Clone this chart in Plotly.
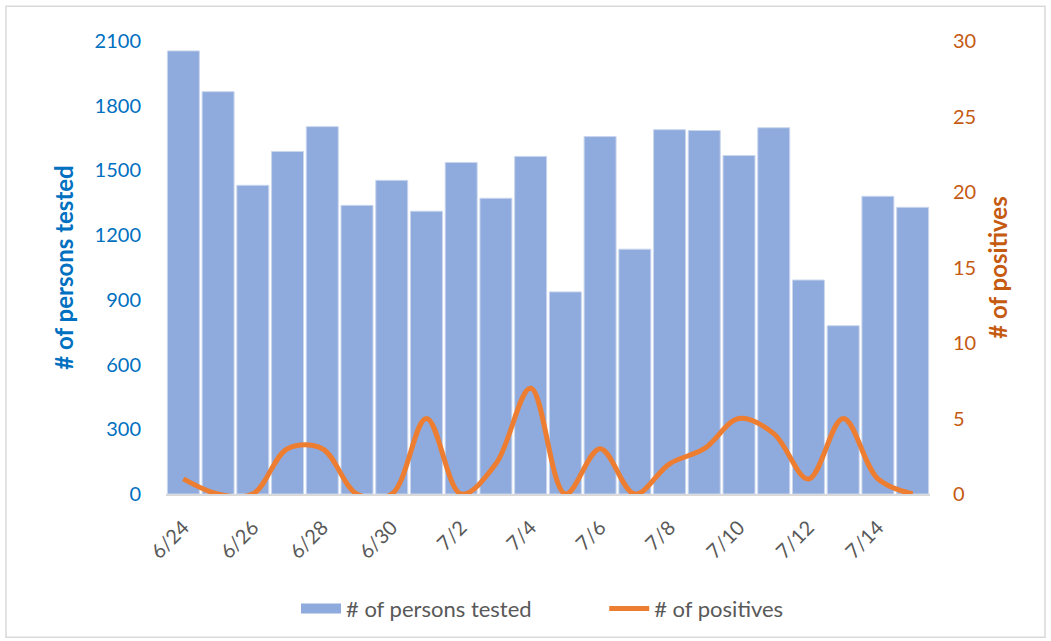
import plotly.graph_objects as go

dates = ["6/24", "6/25", "6/26", "6/27", "6/28", "6/29", "6/30", "7/1", "7/2", "7/3", "7/4",
         "7/5", "7/6", "7/7", "7/8", "7/9", "7/10", "7/11", "7/12", "7/13", "7/14", "7/15"]
tested = [2054, 1865, 1431, 1588, 1703, 1338, 1454, 1311, 1537, 1371, 1565,
          937, 1657, 1135, 1689, 1685, 1569, 1698, 992, 780, 1380, 1329]
positives = [1, 0, 0, 3, 3, 0, 0, 5, 0, 2, 7, 0, 3, 0, 2, 3, 5, 4, 1, 5, 1, 0]
tick_labels = dates[::2]

FONT = "Lato, Open Sans, sans-serif"
BLUE = "#0070C0"
ORANGE_TXT = "#C55A11"
GRAY = "#595959"
BAR = "#8FAADC"
LINE = "#ED7D31"

fig = go.Figure()
fig.add_trace(go.Bar(
    x=dates, y=tested, name="# of persons tested",
    marker=dict(color=BAR, line=dict(color="#C9D6EE", width=1)),
    yaxis="y", showlegend=False,
))
fig.add_trace(go.Scatter(
    x=dates, y=positives, name="# of positives", mode="lines",
    line=dict(color=LINE, width=5, shape="spline", smoothing=1.0),
    yaxis="y2", showlegend=False,
))
# legend-only swatches
fig.add_trace(go.Scatter(x=[None], y=[None], name="# of persons tested" + "\u00a0" * 12, mode="lines",
                         line=dict(color=BAR, width=14), yaxis="y"))
fig.add_trace(go.Scatter(x=[None], y=[None], name="# of positives", mode="lines",
                         line=dict(color=LINE, width=5), yaxis="y2"))

fig.update_layout(
    width=1051, height=641,
    margin=dict(l=166, r=121, t=41, b=145),
    paper_bgcolor="white", plot_bgcolor="white",
    font=dict(family=FONT, color=GRAY),
    bargap=0.08,
    showlegend=True,
    legend=dict(orientation="h", x=(296 - 166) / 764, xanchor="left", y=-0.253, yanchor="middle",
                font=dict(size=22, color=GRAY), traceorder="normal", itemwidth=40),
    xaxis=dict(
        type="category", tickmode="array", tickvals=tick_labels, ticktext=tick_labels,
        tickangle=-45, tickfont=dict(size=20, color=GRAY), ticklabelstandoff=12,
        showline=True, linecolor="#D9D9D9", linewidth=2, showgrid=False, ticks="",
        range=[-0.5, len(dates) - 0.5],
    ),
    yaxis=dict(
        range=[0, 2100], dtick=300, tick0=0, showgrid=False, zeroline=False,
        tickfont=dict(size=20, color=BLUE), ticklabelstandoff=24,
        title=dict(text="<b># of persons tested</b>", font=dict(size=24, color=BLUE), standoff=14),
    ),
    yaxis2=dict(
        range=[0, 30], dtick=5, tick0=0, overlaying="y", side="right",
        showgrid=False, zeroline=False,
        tickfont=dict(size=20, color=ORANGE_TXT), ticklabelstandoff=22,
        title=dict(text="<b># of positives</b>", font=dict(size=24, color=ORANGE_TXT), standoff=14),
    ),
    shapes=[dict(type="rect", xref="paper", yref="paper",
                 x0=(6 - 166) / 764, x1=(1045 - 166) / 764,
                 y0=(496 - 640) / 455, y1=(496 - 6) / 455,
                 line=dict(color="#D9D9D9", width=1.5), fillcolor="rgba(0,0,0,0)", layer="below")],
)

fig.write_html("out.html", config={"displayModeBar": False},
               post_script="document.body.style.margin='0';")
